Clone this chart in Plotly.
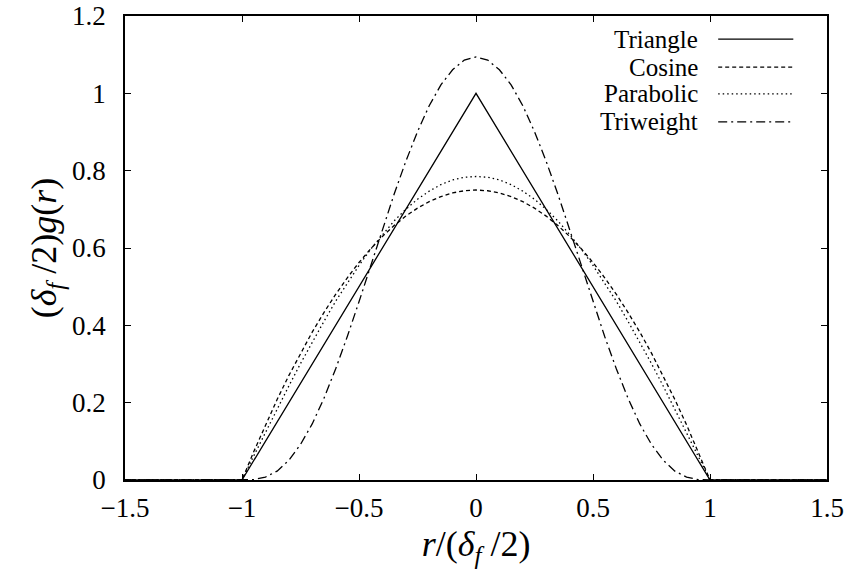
import plotly.graph_objects as go

# r/(delta_f/2) sample positions
r = [-1.5, -1.0, -0.95, -0.9, -0.85, -0.8, -0.75, -0.7, -0.65, -0.6, -0.55, -0.5,
     -0.45, -0.4, -0.35, -0.3, -0.25, -0.2, -0.15, -0.1, -0.05, 0.0,
     0.05, 0.1, 0.15, 0.2, 0.25, 0.3, 0.35, 0.4, 0.45, 0.5, 0.55, 0.6,
     0.65, 0.7, 0.75, 0.8, 0.85, 0.9, 0.95, 1.0, 1.5]

r_triangle = [-1.5, -1.0, 0.0, 1.0, 1.5]
triangle = [0.0, 0.0, 1.0, 0.0, 0.0]

cosine = [0.0, 0.0, 0.073, 0.1425, 0.208, 0.27, 0.328, 0.3825, 0.433, 0.48, 0.523, 0.5625,
          0.598, 0.63, 0.658, 0.6825, 0.703, 0.72, 0.733, 0.7425, 0.748, 0.75,
          0.748, 0.7425, 0.733, 0.72, 0.703, 0.6825, 0.658, 0.63, 0.598, 0.5625, 0.523, 0.48,
          0.433, 0.3825, 0.328, 0.27, 0.208, 0.1425, 0.073, 0.0, 0.0]

parabolic = [0.0, 0.0, 0.062, 0.123, 0.183, 0.243, 0.301, 0.357, 0.410, 0.462, 0.510, 0.555,
             0.597, 0.635, 0.670, 0.700, 0.726, 0.747, 0.764, 0.776, 0.783, 0.785,
             0.783, 0.776, 0.764, 0.747, 0.726, 0.700, 0.670, 0.635, 0.597, 0.555, 0.510, 0.462,
             0.410, 0.357, 0.301, 0.243, 0.183, 0.123, 0.062, 0.0, 0.0]

triweight = [0.0, 0.0, 0.001, 0.0075, 0.023, 0.051, 0.092, 0.145, 0.211, 0.287, 0.371, 0.461,
             0.555, 0.648, 0.739, 0.824, 0.901, 0.968, 1.022, 1.061, 1.086, 1.094,
             1.086, 1.061, 1.022, 0.968, 0.901, 0.824, 0.739, 0.648, 0.555, 0.461, 0.371, 0.287,
             0.211, 0.145, 0.092, 0.051, 0.023, 0.0075, 0.001, 0.0, 0.0]

names = ["Triangle", "Cosine", "Parabolic", "Triweight"]
dashes = ["solid", "4px,3px", "1.5px,3px", "9px,4px,2px,4px"]

FONT = "Liberation Serif"

fig = go.Figure()
series = [(r_triangle, triangle), (r, cosine), (r, parabolic), (r, triweight)]
for (xs, ys), name, dash in zip(series, names, dashes):
    fig.add_trace(go.Scatter(x=xs, y=ys, mode="lines", name=name,
                             line=dict(color="black", width=1.3, dash=dash),
                             showlegend=False))

# legend drawn as right-aligned labels followed by line samples
leg_y = [0.950, 0.890, 0.832, 0.772]
for name, dash, yy in zip(names, dashes, leg_y):
    fig.add_annotation(x=0.819, y=yy, xref="paper", yref="paper", text=name,
                       showarrow=False, xanchor="right", yanchor="middle",
                       font=dict(family=FONT, size=25, color="black"))
    fig.add_shape(type="line", xref="paper", yref="paper", x0=0.845, x1=0.952,
                  y0=yy, y1=yy, line=dict(color="black", width=1.3, dash=dash))

axis_common = dict(showline=True, linecolor="black", linewidth=1.5, mirror="ticks",
                   ticks="inside", ticklen=6, tickcolor="black", tickwidth=1.2,
                   showgrid=False, zeroline=False, automargin=False,
                   tickfont=dict(family=FONT, size=27, color="black"))

fig.update_xaxes(range=[-1.5, 1.5], tickvals=[-1.5, -1, -0.5, 0, 0.5, 1, 1.5],
                 ticklabelstandoff=3,
                 title=dict(text="<i>r</i>/(<i>δ</i><sub><i>f</i></sub> /2)",
                            font=dict(family=FONT, size=36, color="black"), standoff=9),
                 **axis_common)
fig.update_yaxes(range=[0, 1.2], tickvals=[0, 0.2, 0.4, 0.6, 0.8, 1, 1.2],
                 ticklabelstandoff=12,
                 title=dict(text="(<i>δ</i><sub><i>f</i></sub> /2)<i>g</i>(<i>r</i>)",
                            font=dict(family=FONT, size=36, color="black"), standoff=4),
                 **axis_common)

fig.update_layout(width=847, height=574, margin=dict(l=125, r=20, t=16, b=94),
                  plot_bgcolor="white", paper_bgcolor="white")

fig.write_html("out.html")
